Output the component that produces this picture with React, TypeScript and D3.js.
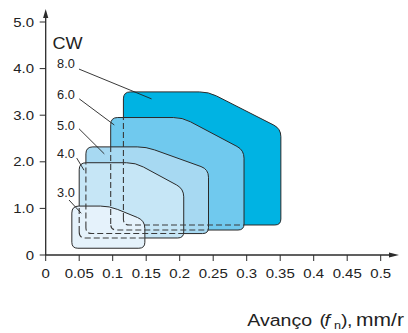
import React from "react";
import * as d3 from "d3";

const W = 408;
const H = 333;

// Chipbreaker grades (CW regions)
const grades = ["8.0", "6.0", "5.0", "4.0", "3.0"];
const fMin = [0.116, 0.097, 0.06, 0.05, 0.039];
const fKnee = [0.243, 0.204, 0.15, 0.134, 0.095];
const fMax = [0.351, 0.296, 0.243, 0.206, 0.148];
const cwMin = [0.644, 0.536, 0.46, 0.365, 0.145];
const cwKnee = [2.71, 2.25, 1.84, 1.42, 0.74];
const cwMax = [3.5, 2.95, 2.32, 1.98, 1.05];
const fills = ["#00b3e3", "#70c9ee", "#a7d9f2", "#c6e6f6", "#e5f2fb"];

// label annotations (data coordinates)
const labelF = [0.017, 0.017, 0.017, 0.017, 0.017];
const labelCW = [4.01, 3.35, 2.68, 2.08, 1.245];
const leadF0 = [0.0497, 0.0501, 0.0497, 0.0463, 0.0348];
const leadCW0 = [3.99, 3.35, 2.71, 2.08, 1.18];
const leadF1 = [0.158, 0.1024, 0.0875, 0.0572, 0.0531];
const leadCW1 = [3.35, 2.79, 2.17, 1.82, 0.895];

const xTicks = [0, 0.05, 0.1, 0.15, 0.2, 0.25, 0.3, 0.35, 0.4, 0.45, 0.5];
const xTickLabels = ["0", "0.05", "0.1", "0.15", "0.2", "0.25", "0.3", "0.35", "0.4", "0.45", "0.5"];
const yTicks = [0, 1, 2, 3, 4, 5];
const yTickLabels = ["0", "1.0", "2.0", "3.0", "4.0", "5.0"];

const x = d3.scaleLinear().domain([0, 0.5]).range([45.7, 380.7]);
const y = d3.scaleLinear().domain([0, 5]).range([255, 22]);

function roundedPath(pts: [number, number][], radii: number[]): string {
  const n = pts.length;
  const p = d3.path();
  const corner = (i: number) => {
    const [cx, cy] = pts[i];
    const [px, py] = pts[(i - 1 + n) % n];
    const [nx, ny] = pts[(i + 1) % n];
    const d1 = Math.hypot(px - cx, py - cy);
    const d2 = Math.hypot(nx - cx, ny - cy);
    const r = Math.min(radii[i], d1 / 2, d2 / 2);
    const a: [number, number] = [cx + ((px - cx) / d1) * r, cy + ((py - cy) / d1) * r];
    const b: [number, number] = [cx + ((nx - cx) / d2) * r, cy + ((ny - cy) / d2) * r];
    return { a, b, c: [cx, cy] as [number, number] };
  };
  const cs = pts.map((_, i) => corner(i));
  p.moveTo(cs[0].b[0], cs[0].b[1]);
  for (let k = 1; k <= n; k++) {
    const c = cs[k % n];
    p.lineTo(c.a[0], c.a[1]);
    p.quadraticCurveTo(c.c[0], c.c[1], c.b[0], c.b[1]);
  }
  p.closePath();
  return p.toString();
}

const font = "'Liberation Sans', Arial, Helvetica, sans-serif";
const SX = 1.17; // horizontal stretch of the axis lettering

function T(props: { x: number; y: number; anchor?: string; size: number; sx?: number; children: React.ReactNode }) {
  const sx = props.sx ?? SX;
  return (
    <text
      transform={`translate(${props.x},${props.y}) scale(${sx},1)`}
      textAnchor={props.anchor || "start"}
      fontSize={props.size}
      fill="#222"
    >
      {props.children}
    </text>
  );
}

export default function App() {
  const paths = grades.map((_, i) => {
    const pts: [number, number][] = [
      [x(fMin[i]), y(cwMin[i])],
      [x(fMin[i]), y(cwMax[i])],
      [x(fKnee[i]), y(cwMax[i])],
      [x(fMax[i]), y(cwKnee[i])],
      [x(fMax[i]), y(cwMin[i])],
    ];
    return roundedPath(pts, [6, 7, 9, 8, 6]);
  });

  const axisColor = "#2b2b2b";
  const x0 = x(0);
  const y0 = y(0);
  const tsx = 1.15;

  return (
    <svg
      width={W}
      height={H}
      style={{ position: "absolute", left: 0, top: 0, background: "#fff" }}
      fontFamily={font}
    >
      <defs>
        {grades.map((_, i) => (
          <clipPath key={"c" + i} id={"front-" + i}>
            {paths.slice(i + 1).map((d, j) => (
              <path key={j} d={d} />
            ))}
          </clipPath>
        ))}
      </defs>
      {/* filled regions, back to front */}
      {paths.map((d, i) => (
        <path key={"f" + i} d={d} fill={fills[i]} stroke="#2a2a2a" strokeWidth={1} />
      ))}
      {/* hidden outlines, dashed */}
      {paths.slice(0, -1).map((d, i) => (
        <path
          key={"d" + i}
          d={d}
          fill="none"
          stroke="#3a3a3a"
          strokeWidth={1.1}
          strokeDasharray="6,3"
          clipPath={`url(#front-${i})`}
        />
      ))}

      {/* leader lines and labels */}
      {grades.map((g, i) => (
        <g key={"l" + i}>
          <line
            x1={x(leadF0[i])}
            y1={y(leadCW0[i])}
            x2={x(leadF1[i])}
            y2={y(leadCW1[i])}
            stroke="#222"
            strokeWidth={0.9}
          />
          <T x={x(labelF[i])} y={y(labelCW[i])} size={12.5} sx={1.02}>
            {g}
          </T>
        </g>
      ))}

      {/* axes */}
      <line x1={x0} y1={y0} x2={x0} y2={16} stroke={axisColor} strokeWidth={1.3} />
      <path d={`M${x0},9 L${x0 - 2.6},18 L${x0 + 2.6},18 Z`} fill={axisColor} />
      <line x1={x0} y1={y0} x2={392} y2={y0} stroke={axisColor} strokeWidth={1.3} />
      <path d={`M399,${y0} L389,${y0 - 2.6} L389,${y0 + 2.6} Z`} fill={axisColor} />

      {yTicks.map((t, i) => (
        <g key={"yt" + i}>
          <line x1={x0 - 6} x2={x0} y1={y(t)} y2={y(t)} stroke={axisColor} strokeWidth={1} />
          <T x={34} y={y(t) + 4.6} anchor="end" size={12.8}>
            {yTickLabels[i]}
          </T>
        </g>
      ))}
      {xTicks.map((t, i) => (
        <g key={"xt" + i}>
          <line x1={x(t)} x2={x(t)} y1={y0} y2={y0 + 6} stroke={axisColor} strokeWidth={1} />
          <T x={x(t)} y={277.5} anchor="middle" size={12.8}>
            {xTickLabels[i]}
          </T>
        </g>
      ))}

      <T x={52.5} y={48.5} size={16} sx={1.13}>
        CW
      </T>
      <text transform={`translate(0,326) scale(${tsx},1)`} fontSize={17} fill="#222">
        <tspan x={247.3 / tsx}>Avanço</tspan>
        <tspan x={319.5 / tsx}>(</tspan>
        <tspan x={324.5 / tsx} fontStyle="italic">f</tspan>
        <tspan x={334 / tsx} fontSize={11} dy={3}>n</tspan>
        <tspan x={341 / tsx} dy={-3}>)</tspan>
        <tspan x={347 / tsx}>,</tspan>
        <tspan x={356 / tsx} fontSize={18.3}>mm/r</tspan>
      </text>
    </svg>
  );
}
